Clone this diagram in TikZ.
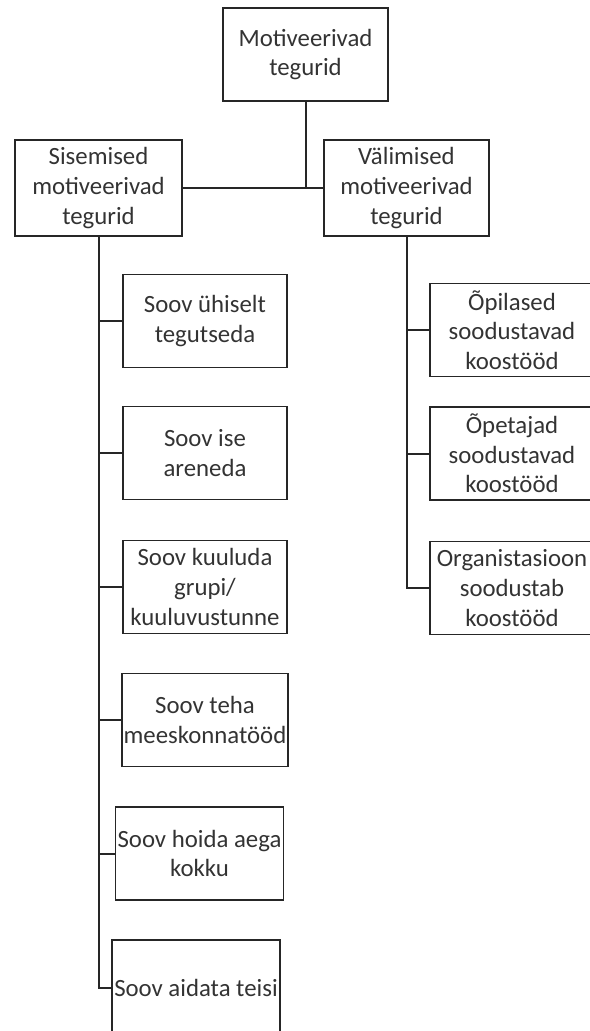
\documentclass[tikz,border=0pt]{standalone}
\usepackage{fontspec}
\setmainfont{Carlito}
\usepackage{tikz}

\begin{document}
\begin{tikzpicture}[x=0.5pt,y=-0.5pt]
  \tikzstyle{every node}=[rectangle, draw=black!85, line width=0.9pt, text=black!80, align=center, inner sep=1pt, minimum width=82pt, minimum height=46.5pt, font=\fontsize{12.4}{14.8}\selectfont]
  \tikzstyle{link}=[line width=1pt, draw=black!85]
  \useasboundingbox (0,0) rectangle (589,1031);
  \node (Root) [minimum width=82.25pt] at (305.5,54.5) {Motiveerivad\\tegurid};
  \node (Inner) [minimum width=83.5pt, minimum height=48pt] at (98.5,188) {Sisemised\\motiveerivad\\tegurid};
  \node (Outer) [minimum width=82.5pt, minimum height=48pt] at (406.5,188) {Välimised\\motiveerivad\\tegurid};
  \node (in1) at (205,321) {Soov ühiselt\\tegutseda};
  \node (in2) at (205,453) {Soov ise\\areneda};
  \node (in3) at (205,587) {Soov kuuluda\\grupi/\\kuuluvustunne};
  \node (in4) at (205,720) {Soov teha\\meeskonnatööd};
  \node (in5) at (199.5,853.5) {Soov hoida aega\\kokku};
  \node (in6) [minimum height=48pt] at (196,988) {Soov aidata teisi};
  \node (out1) at (512,330) {Õpilased\\soodustavad\\koostööd};
  \node (out2) at (512,453.5) {Õpetajad\\soodustavad\\koostööd};
  \node (out3) at (512,588) {Organistasioon\\soodustab\\koostööd};
  \draw[link] (Inner.east) -- (Outer.west);
  \draw[link] (Root.south) -- (Root.south |- Inner.east);
  \foreach \n in {1,...,6}
    \draw[link] (Inner.south) |- (in\n.west);
  \foreach \n in {1,...,3}
    \draw[link] (Outer.south) |- (out\n.west);
\end{tikzpicture}
\end{document}
